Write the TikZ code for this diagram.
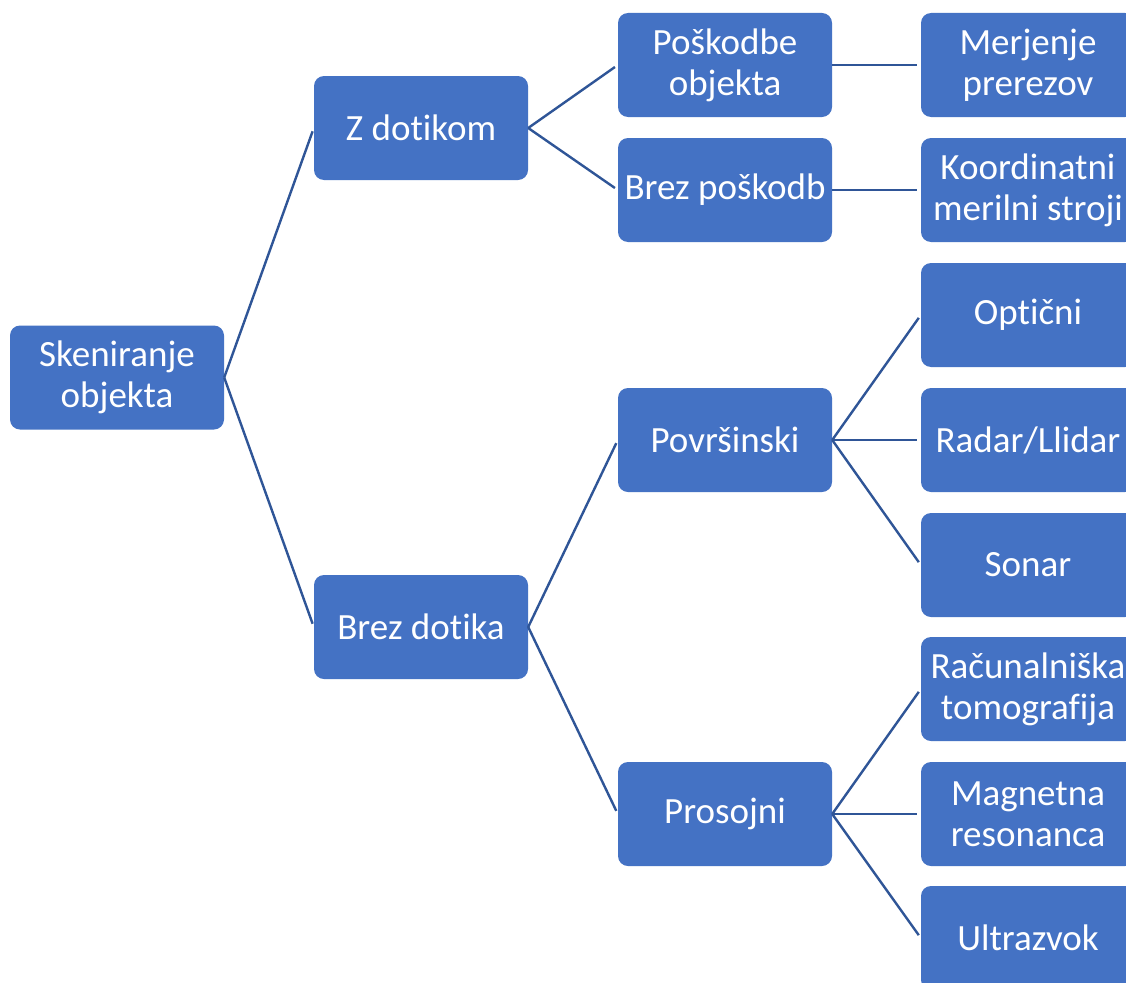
\documentclass[tikz,border=0pt]{standalone}
\usepackage{fontspec}
\setmainfont[Ligatures=NoCommon]{Carlito}
\definecolor{boxblue}{HTML}{4472C4}
\definecolor{linkblue}{HTML}{2F5597}
\begin{document}
\begin{tikzpicture}[x=1pt,y=-1pt,
  box/.style={draw=none, fill=boxblue, rounded corners=10pt,
    minimum width=214pt, minimum height=104pt, inner sep=0pt,
    text=white, align=center,
    font=\fontsize{37pt}{41pt}\selectfont},
  link/.style={draw=linkblue, line width=2.4pt, shorten >=3.5pt}]
\clip (0,0) rectangle (1126,982);
\fill[white] (0,0) rectangle (1126,982);

% level 0
\node[box] (root) at (117,377.5) {Skeniranje\\objekta};
% level 1
\node[box] (zd) at (421,128) {Z dotikom};
\node[box] (bd) at (421,627) {Brez dotika};
% level 2
\node[box] (po) at (725,65) {Poškodbe\\objekta};
\node[box] (bp) at (725,190) {Brez poškodb};
\node[box] (pv) at (725,440) {Površinski};
\node[box] (pr) at (725,814) {Prosojni};
% level 3
\node[box] (mp) at (1028,65) {Merjenje\\prerezov};
\node[box] (km) at (1028,190) {Koordinatni\\merilni stroji};
\node[box] (op) at (1028,315) {Optični};
\node[box] (rl) at (1028,440) {Radar/Llidar};
\node[box] (so) at (1028,565) {Sonar};
\node[box] (rt) at (1028,689) {Računalniška\\tomografija};
\node[box] (mr) at (1028,814) {Magnetna\\resonanca};
\node[box] (uz) at (1028,938) {Ultrazvok};

% connectors
\draw[link] (root.east) -- (zd.west);
\draw[link] (root.east) -- (bd.west);
\draw[link] (zd.east) -- (po.west);
\draw[link] (zd.east) -- (bp.west);
\draw[link] (bd.east) -- (pv.west);
\draw[link] (bd.east) -- (pr.west);
\draw[link] (po.east) -- (mp.west);
\draw[link] (bp.east) -- (km.west);
\draw[link] (pv.east) -- (op.west);
\draw[link] (pv.east) -- (rl.west);
\draw[link] (pv.east) -- (so.west);
\draw[link] (pr.east) -- (rt.west);
\draw[link] (pr.east) -- (mr.west);
\draw[link] (pr.east) -- (uz.west);
\end{tikzpicture}
\end{document}
